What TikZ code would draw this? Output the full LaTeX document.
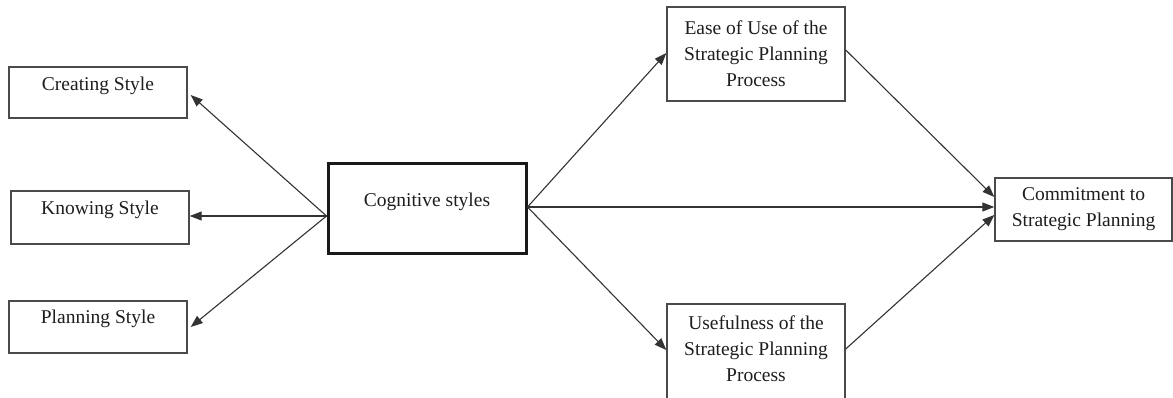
\documentclass[tikz,border=0pt]{standalone}
\usepackage{fontspec}
\setmainfont{Liberation Serif}
\usetikzlibrary{arrows.meta}
\definecolor{txt}{HTML}{1E1E1E}
\definecolor{ln}{HTML}{333333}
\definecolor{bx}{HTML}{4A4A4A}
\tikzset{
  box/.style={draw=bx, line width=1.4pt, minimum width=#1, inner sep=0pt},
  boxh/.style={minimum height=#1},
  thickbox/.style={draw=black!90, line width=3pt, inner sep=0pt},
  lbl/.style={text=txt, font=\fontsize{19.5}{26}\selectfont, align=center, inner sep=0pt},
  conn/.style={draw=ln, line width=1.1pt, -{Triangle[length=12pt,width=9pt]}},
}
\begin{document}
\begin{tikzpicture}[x=1pt,y=-1pt]
\useasboundingbox (0,0) rectangle (1173,397);
\clip (0,0) rectangle (1173,397);
\fill[white] (0,0) rectangle (1173,397);
% left boxes
\node[box=178pt, boxh=51pt] (crea) at (98,92.5) {};
\node[lbl] (creat) at ([yshift=7pt]crea.center) {Creating Style};
\node[box=178pt, boxh=53pt] (know) at (100,217.5) {};
\node[lbl] (knowt) at ([yshift=8pt]know.center) {Knowing Style};
\node[box=178pt, boxh=52pt] (plan) at (98,327) {};
\node[lbl] (plant) at ([yshift=8pt]plan.center) {Planning Style};
% cognitive
\node[thickbox, minimum width=198pt, minimum height=90pt] (cog) at (427,208.5) {};
\node[lbl] (cogt) at ([yshift=7pt]cog.center) {Cognitive styles};
% right boxes
\node[box=178pt, boxh=94pt, lbl, draw=bx, line width=1.4pt] (ease) at (756,54) {Ease of Use of the\\Strategic Planning\\Process};
\node[box=178pt, boxh=110pt] (use) at (756,359) {};
\node[lbl] (uset) at (756,349) {Usefulness of the\\Strategic Planning\\Process};
\node[box=177pt, boxh=63pt, lbl, draw=bx, line width=1.4pt] (comm) at (1083.5,209.5) {Commitment to\\Strategic Planning};
% connectors left
\draw[conn] ([yshift=-7.5pt]cog.west) -- ([xshift=3pt,yshift=-2.5pt]crea.east);
\draw[conn] ([yshift=-7.5pt]cog.west) -- ([yshift=1.5pt]know.east);
\draw[conn] ([yshift=-7.5pt]cog.west) -- ([xshift=3pt]plan.east);
% connectors right
\draw[conn] ([yshift=1.5pt]cog.east) -- ([yshift=1pt]ease.west);
\draw[conn] ([yshift=1.5pt]cog.east) -- ([yshift=2.5pt]comm.west);
\draw[conn] ([yshift=1.5pt]cog.east) -- ([yshift=9pt]use.west);
\draw[conn] ([yshift=4pt]ease.east) -- ([yshift=12.5pt]comm.west);
\draw[conn] ([yshift=10pt]use.east) -- ([yshift=-5.5pt]comm.west);
\end{tikzpicture}
\end{document}
